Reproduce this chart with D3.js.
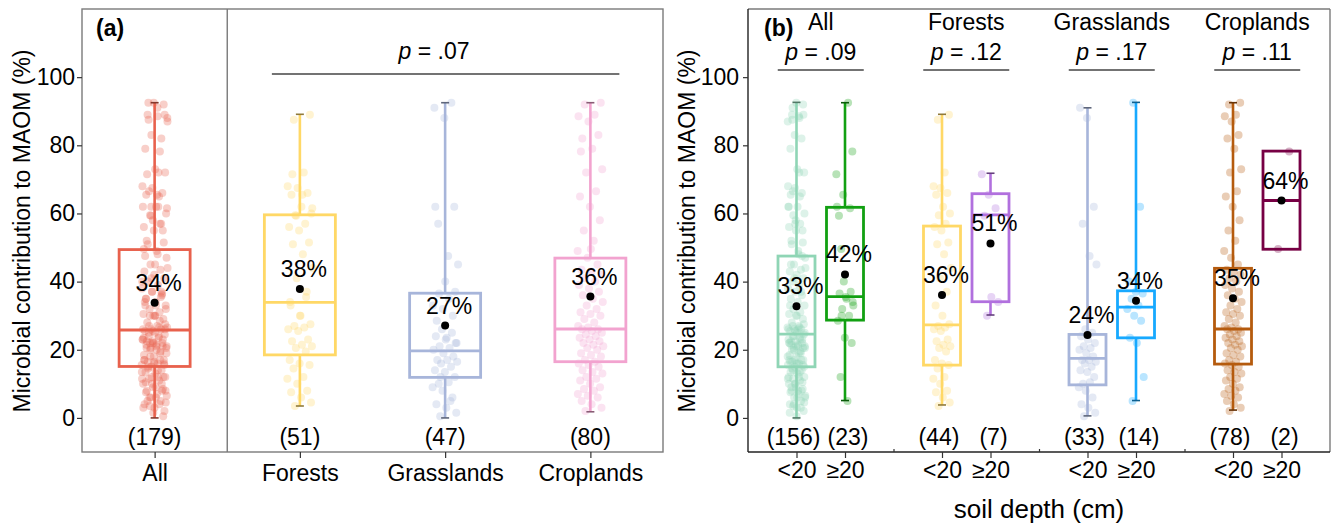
<!DOCTYPE html>
<html lang="en">
  <head>
    <meta charset="UTF-8" />
    <title>Microbial contribution to MAOM</title>
    <style>
      body { margin: 0; background: #fff; }
      text { font-family: "Liberation Sans", Arial, sans-serif; fill: #000; }
    </style>
  </head>
  <body>
    <script src="https://cdn.jsdelivr.net/npm/d3@7/dist/d3.min.js"></script>
    <script>
    // ---- data ----
    var yTicks = [0, 20, 40, 60, 80, 100];

    // panel (a): all / per land use
    var groupsA = ["All", "Forests", "Grasslands", "Croplands"];
    var countsA = [179, 51, 47, 80];
    var colorsA = ["#e8614d", "#ffd866", "#a7b5da", "#f2a3cf"];
    var minA  = [0.0, 3.5, 0.0, 1.8];
    var q1A   = [15.1, 18.5, 11.9, 16.5];
    var medA  = [25.8, 33.9, 19.7, 26.1];
    var q3A   = [49.4, 59.6, 36.6, 46.9];
    var maxA  = [92.5, 89.1, 92.5, 92.5];
    var meanA = [33.8, 37.8, 27.1, 35.6];
    var pValueA = ".07";

    // panel (b): land use x soil depth
    var landUses = ["All", "Forests", "Grasslands", "Croplands"];
    var depthClasses = ["<20", "\u226520"];
    var pValuesB = [".09", ".12", ".17", ".11"];
    var countsB = [156, 23, 44, 7, 33, 14, 78, 2];
    var colorsB = ["#8fd5b5", "#12a012", "#ffd866", "#b170de", "#a7b5da", "#17a9ff", "#b55b0e", "#770044"];
    var minB  = [0.0, 5.1, 3.8, 30.2, 0.6, 5.1, 2.3, 49.5];
    var q1B   = [15.0, 28.7, 15.5, 34.1, 9.7, 23.5, 15.8, 49.5];
    var medB  = [24.6, 35.6, 27.3, 59.6, 17.5, 32.5, 26.1, 63.8];
    var q3B   = [47.5, 61.8, 56.3, 65.8, 24.5, 37.3, 43.9, 78.3];
    var maxB  = [92.6, 92.5, 89.1, 71.8, 91.0, 92.6, 92.5, 78.3];
    var meanB = [32.8, 42.1, 36.1, 51.2, 24.3, 34.4, 35.1, 63.8];

    // individual observations (%), estimated from the jittered dots
    var forestShallow = [3.5, 4.5, 6, 7.5, 8, 10, 11.5, 12, 14.5, 15.5, 16,
      17, 19.5, 20.5, 21, 21.5, 22.5, 23, 25.5, 26, 26.5, 27,
      27.5, 30, 33, 37, 41, 44, 48, 51, 51.5, 55, 56,
      57, 59.5, 60, 62, 65.5, 66, 67.5, 68, 72, 87.5, 89];
    var forestDeep = [30, 34, 35.5, 59.3, 61.5, 65.5, 71.5];
    var grassShallow = [0.5, 1.5, 3, 4, 6, 8, 9, 10.5,
      10, 12, 13.5, 14, 15, 16, 16.5, 17, 17, 18,
      19, 20, 20.5, 21, 22, 23, 24, 25, 26,
      45, 47.5, 57, 62, 88, 91];
    var grassDeep = [5, 12, 22, 23.5, 28.5, 30, 32, 33, 35, 36.5, 37, 40, 62, 92.5];
    var cropShallow = [2, 3, 4, 5, 6, 6.5, 7, 8, 8.5, 9, 10, 11, 11.5, 12, 13, 13.5, 14, 15, 15.5,
      16, 16.5, 17, 18, 18.5, 19, 20, 20.5, 21, 21.5, 22, 22.5, 23, 23.5, 24, 24.5, 25, 25.5, 26, 26,
      26.5, 27, 28, 29, 30, 30.5, 31, 32, 33, 34, 35, 36, 37, 38, 39, 40, 41, 42, 43, 43.5,
      45, 47, 49, 52, 55, 58, 62, 65, 66.5, 72, 73, 79, 82, 83, 87, 88.5, 89, 92, 92.5];
    var cropDeep = [49.6, 78.2];
    var otherShallow = [22];

    var pointsA = [
      forestShallow.concat(forestDeep, grassShallow, grassDeep, cropShallow, cropDeep, otherShallow),
      forestShallow.concat(forestDeep),
      grassShallow.concat(grassDeep),
      cropShallow.concat(cropDeep)
    ];
    var pointsB = [
      forestShallow.concat(grassShallow, cropShallow, otherShallow),
      forestDeep.concat(grassDeep, cropDeep),
      forestShallow, forestDeep,
      grassShallow, grassDeep,
      cropShallow, cropDeep
    ];

    // ---- layout ----
    var W = 1331, H = 527;
    var plotTop = 9, plotBottom = 452;
    var fontSize = 23;

    var svg = d3.select("body").append("svg")
      .attr("width", W).attr("height", H);

    var y = d3.scaleLinear().domain([-10, 120]).range([plotBottom, plotTop]);
    var xA = d3.scaleLinear().domain([-0.5, 3.5]).range([82, 663]);
    var xB = d3.scaleLinear().domain([-1, 11]).range([748, 1330]);
    var posB = countsB.map(function(d, i) { return Math.floor(i / 2) * 3 + (i % 2); });

    // golden-ratio spread for the jittered dots
    function jitter(i) { return ((i * 0.618034 + 0.31) % 1) - 0.5; }

    function drawBox(g, cx, bw, jw, st) {
      var c = st.color;
      g.selectAll("circle.pt")
        .data(st.points)
        .enter().append("circle")
        .attr("class", "pt")
        .attr("cx", function(d, i) { return cx + jitter(i) * 2 * jw; })
        .attr("cy", function(d) { return y(d); })
        .attr("r", 4)
        .attr("fill", c)
        .attr("fill-opacity", 0.3);
      if (st.max > st.q3) {
        g.append("line").attr("x1", cx).attr("x2", cx)
          .attr("y1", y(st.q3)).attr("y2", y(st.max))
          .attr("stroke", c).attr("stroke-width", 2.6);
        g.append("line").attr("x1", cx - 4).attr("x2", cx + 4)
          .attr("y1", y(st.max)).attr("y2", y(st.max))
          .attr("stroke", d3.color(c).darker(1.6)).attr("stroke-width", 1.6);
      }
      if (st.min < st.q1) {
        g.append("line").attr("x1", cx).attr("x2", cx)
          .attr("y1", y(st.q1)).attr("y2", y(st.min))
          .attr("stroke", c).attr("stroke-width", 2.6);
        g.append("line").attr("x1", cx - 4).attr("x2", cx + 4)
          .attr("y1", y(st.min)).attr("y2", y(st.min))
          .attr("stroke", d3.color(c).darker(1.6)).attr("stroke-width", 1.6);
      }
      g.append("rect")
        .attr("x", cx - bw / 2).attr("width", bw)
        .attr("y", y(st.q3)).attr("height", y(st.q1) - y(st.q3))
        .attr("fill", "none").attr("stroke", c).attr("stroke-width", 2.8);
      g.append("line")
        .attr("x1", cx - bw / 2).attr("x2", cx + bw / 2)
        .attr("y1", y(st.med)).attr("y2", y(st.med))
        .attr("stroke", c).attr("stroke-width", 2.8);
      g.append("circle")
        .attr("cx", cx).attr("cy", y(st.mean)).attr("r", 4)
        .attr("fill", "#000");
      g.append("text")
        .attr("x", cx + 4).attr("y", y(st.mean) - 12)
        .attr("text-anchor", "middle").attr("font-size", fontSize)
        .text(Math.round(st.mean) + "%");
    }

    function styleAxis(g) {
      g.select(".domain").remove();
      g.selectAll(".tick line").attr("stroke", "#333").attr("stroke-width", 1.2);
      g.selectAll(".tick text").attr("font-size", fontSize)
        .attr("font-family", "'Liberation Sans', Arial, sans-serif").attr("fill", "#000");
    }

    // ---- panel (a) ----
    var gA = svg.append("g");
    groupsA.forEach(function(name, i) {
      drawBox(gA.append("g"), xA(i), 71, 13, {
        color: colorsA[i], points: pointsA[i],
        min: minA[i], q1: q1A[i], med: medA[i], q3: q3A[i], max: maxA[i], mean: meanA[i]
      });
      gA.append("text")
        .attr("x", xA(i)).attr("y", 445)
        .attr("text-anchor", "middle").attr("font-size", fontSize)
        .text("(" + countsA[i] + ")");
    });

    gA.append("rect")
      .attr("x", xA(-0.5)).attr("y", plotTop)
      .attr("width", xA(3.5) - xA(-0.5)).attr("height", plotBottom - plotTop)
      .attr("fill", "none").attr("stroke", "#7a7a7a").attr("stroke-width", 1.4);
    gA.append("line")
      .attr("x1", xA(0.5)).attr("x2", xA(0.5))
      .attr("y1", plotTop).attr("y2", plotBottom)
      .attr("stroke", "#7a7a7a").attr("stroke-width", 1.4);

    gA.append("g")
      .attr("transform", "translate(" + xA(-0.5) + ",0)")
      .call(d3.axisLeft(y).tickValues(yTicks).tickSize(5).tickPadding(2))
      .call(styleAxis);
    gA.append("g")
      .attr("transform", "translate(0," + plotBottom + ")")
      .call(d3.axisBottom(xA).tickValues([0, 1, 2, 3])
        .tickFormat(function(d) { return groupsA[d]; })
        .tickSize(6).tickPadding(7))
      .call(styleAxis);

    gA.append("line")
      .attr("x1", xA(1) - 28).attr("x2", xA(3) + 29)
      .attr("y1", 74).attr("y2", 74)
      .attr("stroke", "#444").attr("stroke-width", 1.3);
    var pA = gA.append("text")
      .attr("x", 434).attr("y", 59)
      .attr("text-anchor", "middle").attr("font-size", fontSize);
    pA.append("tspan").attr("font-style", "italic").text("p");
    pA.append("tspan").text(" = " + pValueA);

    gA.append("text")
      .attr("x", 96).attr("y", 36)
      .attr("font-size", fontSize).attr("font-weight", "bold")
      .text("(a)");

    gA.append("text")
      .attr("transform", "translate(30," + 231 + ")rotate(-90)")
      .attr("text-anchor", "middle").attr("font-size", fontSize)
      .text("Microbial contribution to MAOM (%)");

    // ---- panel (b) ----
    var gB = svg.append("g");
    countsB.forEach(function(n, i) {
      drawBox(gB.append("g"), xB(posB[i]), 37, 9, {
        color: colorsB[i], points: pointsB[i],
        min: minB[i], q1: q1B[i], med: medB[i], q3: q3B[i], max: maxB[i], mean: meanB[i]
      });
      gB.append("text")
        .attr("x", xB(posB[i]) + (i % 2 === 0 ? -3 : 3)).attr("y", 445)
        .attr("text-anchor", "middle").attr("font-size", fontSize)
        .text("(" + n + ")");
    });

    gB.append("line")
      .attr("x1", xB(-1)).attr("x2", xB(11)).attr("y1", plotTop).attr("y2", plotTop)
      .attr("stroke", "#7a7a7a").attr("stroke-width", 1.4);
    gB.append("line")
      .attr("x1", xB(11)).attr("x2", xB(11)).attr("y1", plotTop).attr("y2", plotBottom)
      .attr("stroke", "#7a7a7a").attr("stroke-width", 1.4);
    gB.append("line")
      .attr("x1", xB(-1)).attr("x2", xB(-1)).attr("y1", plotTop).attr("y2", plotBottom)
      .attr("stroke", "#222").attr("stroke-width", 1.4);
    gB.append("line")
      .attr("x1", xB(-1)).attr("x2", xB(11)).attr("y1", plotBottom).attr("y2", plotBottom)
      .attr("stroke", "#222").attr("stroke-width", 1.4);

    gB.append("g")
      .attr("transform", "translate(" + xB(-1) + ",0)")
      .call(d3.axisLeft(y).tickValues(yTicks).tickSize(5).tickPadding(4))
      .call(styleAxis);
    gB.append("g")
      .attr("transform", "translate(0," + plotBottom + ")")
      .call(d3.axisBottom(xB).tickValues(posB)
        .tickFormat(function(d, i) { return depthClasses[i % 2]; })
        .tickSize(6).tickPadding(4))
      .call(styleAxis);
    gB.append("g")
      .attr("transform", "translate(0," + plotBottom + ")")
      .call(d3.axisBottom(xB).tickValues([2, 5, 8]).tickFormat("").tickSize(-3))
      .call(styleAxis);

    landUses.forEach(function(name, g) {
      var cx = xB(g * 3 + 0.5);
      gB.append("text")
        .attr("x", cx).attr("y", 30)
        .attr("text-anchor", "middle").attr("font-size", fontSize)
        .text(name);
      var t = gB.append("text")
        .attr("x", cx).attr("y", 60)
        .attr("text-anchor", "middle").attr("font-size", fontSize);
      t.append("tspan").attr("font-style", "italic").text("p");
      t.append("tspan").text(" = " + pValuesB[g]);
      gB.append("line")
        .attr("x1", cx - 43).attr("x2", cx + 43)
        .attr("y1", 70).attr("y2", 70)
        .attr("stroke", "#444").attr("stroke-width", 1.3);
    });

    gB.append("text")
      .attr("x", 764).attr("y", 36)
      .attr("font-size", fontSize).attr("font-weight", "bold")
      .text("(b)");

    gB.append("text")
      .attr("transform", "translate(695," + 231 + ")rotate(-90)")
      .attr("text-anchor", "middle").attr("font-size", fontSize)
      .text("Microbial contribution to MAOM (%)");

    gB.append("text")
      .attr("x", xB(5)).attr("y", 518)
      .attr("text-anchor", "middle").attr("font-size", 26)
      .text("soil depth (cm)");
    </script>
  </body>
</html>
